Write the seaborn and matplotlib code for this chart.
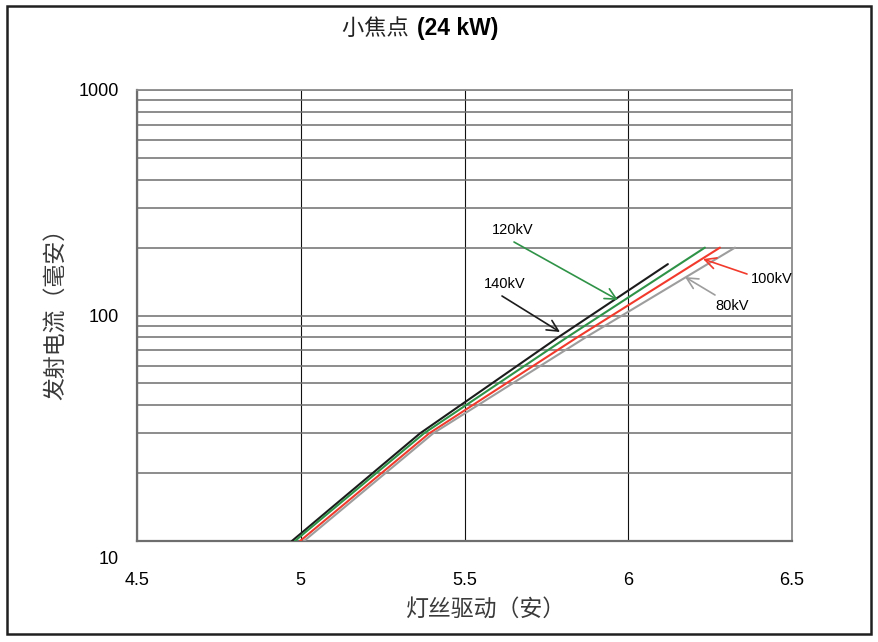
import numpy as np
import pandas as pd
import matplotlib
matplotlib.use("Agg")
import matplotlib.pyplot as plt
import matplotlib.transforms as mtransforms
from matplotlib.patches import Rectangle
import seaborn as sns

# ---------------- data ----------------
series_names = ["140kV", "120kV", "100kV", "80kV"]
x_140 = [4.973, 5.364, 5.786, 6.121]
y_140 = [10, 30, 80, 169]
x_120 = [4.982, 5.376, 5.813, 6.234]
y_120 = [10, 30, 80, 200]
x_100 = [4.998, 5.392, 5.844, 6.280]
y_100 = [10, 30, 80, 200]
x_80 = [5.010, 5.404, 5.870, 6.326]
y_80 = [10, 30, 80, 200]

x_ticks = [4.5, 5, 5.5, 6, 6.5]
x_tick_labels = ["4.5", "5", "5.5", "6", "6.5"]
y_ticks = [10, 100, 1000]
y_tick_labels = ["10", "100", "1000"]

title_cn = "小焦点"
title_en = "(24 kW)"
x_label = "灯丝驱动（安）"
y_label = "发射电流（毫安）"

colors = {"140kV": "#1c1c1c", "120kV": "#2f9347", "100kV": "#f23a2c", "80kV": "#9d9d9d"}

frames = []
for name, xs, ys in zip(series_names, [x_140, x_120, x_100, x_80], [y_140, y_120, y_100, y_80]):
    frames.append(pd.DataFrame({"x": xs, "y": ys, "kV": name}))
df = pd.concat(frames, ignore_index=True)

# ---------------- figure ----------------
sns.set_style("white")
plt.rcParams["font.family"] = ["Liberation Sans", "Noto Sans CJK SC", "DejaVu Sans"]

W, H = 879, 642
fig = plt.figure(figsize=(W / 100, H / 100), dpi=100)
L, R, T, B = 137, 792, 90, 541
ax = fig.add_axes([L / W, 1 - B / H, (R - L) / W, (B - T) / H])

sns.lineplot(data=df, x="x", y="y", hue="kV", hue_order=series_names, palette=colors,
             sort=False, estimator=None, lw=1.5, legend=False, ax=ax, zorder=3)

ax.set_yscale("log")
ax.set_xlim(4.5, 6.5)
ax.set_ylim(10, 1000)
ax.set_xticks(x_ticks)
ax.set_xticklabels(x_tick_labels)
ax.set_yticks(y_ticks)
ax.set_yticklabels(y_tick_labels)
ax.yaxis.set_minor_locator(matplotlib.ticker.LogLocator(base=10, subs=np.arange(2, 10)))
ax.yaxis.set_minor_formatter(matplotlib.ticker.NullFormatter())

ax.tick_params(axis="y", which="major", direction="out", length=5, width=1, color="#6e6e6e",
               labelsize=13, pad=8, labelcolor="black")
ax.tick_params(axis="y", which="minor", length=0)
ax.tick_params(axis="x", which="major", direction="out", length=5, width=1, color="#6e6e6e",
               labelsize=13, pad=17, labelcolor="black")

ax.grid(False)
ax.yaxis.grid(True, which="both", color="#6e6e6e", lw=1.1)
ax.xaxis.grid(True, which="major", color="#111111", lw=0.8)
ax.set_axisbelow(True)

for s in ["left", "bottom"]:
    ax.spines[s].set_color("#6e6e6e")
    ax.spines[s].set_linewidth(1.6)
for s in ["top", "right"]:
    ax.spines[s].set_color("#8a8a8a")
    ax.spines[s].set_linewidth(1.3)

# Excel-style offset of the bottom y tick label
off = mtransforms.ScaledTranslation(0, -0.16, fig.dpi_scale_trans)
lab = ax.yaxis.get_major_ticks()[0].label1
lab.set_transform(lab.get_transform() + off)

cjk = ["Noto Sans CJK SC", "DejaVu Sans"]
ax.set_xlabel(x_label, family=cjk, fontsize=16.5, color="#3a3a3a", va="center")
ax.xaxis.set_label_coords((486 - L) / (R - L), (B - 609) / (B - T))
ax.set_ylabel(y_label, family=cjk, fontsize=16.5, color="#3a3a3a", va="center")
ax.yaxis.set_label_coords((55 - L) / (R - L), (B - 308) / (B - T))

# title
fig.text(414 / W, 1 - 28 / H, title_cn + " ", family=cjk, fontsize=16, ha="right", va="center",
         color="#222222")
fig.text(417 / W, 1 - 28 / H, title_en, family=["Liberation Sans Narrow", "Liberation Sans"],
         fontweight="bold", fontsize=16.5, ha="left", va="center", color="black")

# annotations (pixel positions converted to data coords)
def px2data(px, py):
    return 4.5 + (px - L) / ((R - L) / 2.0), 10 ** (1 + (B - py) / ((B - T) / 2.0))

ann = [
    ("120kV", (513, 230), (514, 242), (618, 300), "#2f9347"),
    ("140kV", (505, 284), (502, 296), (560, 332), "#1c1c1c"),
    ("100kV", (772, 279), (747, 274), (703, 259), "#f23a2c"),
    ("80kV", (732, 306), (715, 295), (685, 277), "#9d9d9d"),
]
for text, tpos, tail, head, c in ann:
    ax.annotate("", xy=px2data(*head), xytext=px2data(*tail),
                arrowprops=dict(arrowstyle="->,head_length=0.8,head_width=0.4", color=c, lw=1.2,
                                shrinkA=0, shrinkB=0), zorder=4, annotation_clip=False)
    ax.text(*px2data(*tpos), text, fontsize=10.5, ha="center", va="center", color="black",
            family=["Liberation Sans", "DejaVu Sans"], zorder=5, clip_on=False)

# outer border
fig.patches.append(Rectangle((7 / W, 1 - 634 / H), (871 - 7) / W, (634 - 6) / H,
                             transform=fig.transFigure, fill=False, lw=1.8, ec="#202020"))

fig.savefig("out.png", dpi=100)
